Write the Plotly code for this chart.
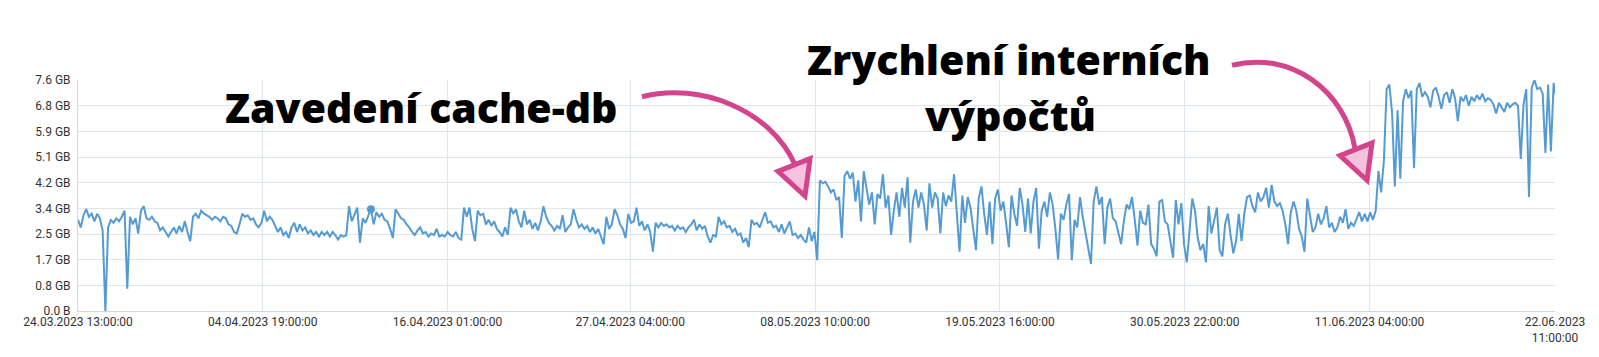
import pandas as pd
import plotly.graph_objects as go

# ---------------- data ----------------
start_time = "2023-03-24 13:00"
end_time = "2023-06-22 11:00"
step = "4h"

memory_gb = [
    # 24.03 - 08.04
    3.0, 2.75, 3.15, 3.35, 3.1, 3.2, 2.95, 3.2, 3.05, 2.65, 0.0, 2.75, 3.0, 2.9, 3.05, 2.95, 3.1, 3.3, 0.73, 3.1,
    2.85, 3.05, 2.55, 3.3, 3.45, 3.05, 3.0, 3.1, 2.95, 2.9, 2.65, 2.75, 2.6, 2.45, 2.6, 2.75, 2.55, 2.8, 2.6, 2.95,
    2.6, 2.3, 3.1, 3.2, 3.05, 3.3, 3.2, 3.15, 3.1, 3.0, 3.1, 3.05, 2.95, 3.1, 3.05, 2.85, 2.8, 2.6, 2.55, 2.85,
    3.2, 3.1, 3.15, 3.0, 3.05, 2.85, 2.75, 2.9, 3.3, 2.95, 3.1, 3.0, 2.8, 2.6, 2.75, 2.5, 2.6, 2.4, 2.75, 2.9,
    2.6, 2.85, 2.65, 2.75, 2.55, 2.65, 2.5, 2.6, 2.45, 2.6, 2.5,
    # 08.04 - 23.04
    2.6, 2.45, 2.6, 2.5, 2.35, 2.5, 2.45, 2.5, 3.45, 2.95, 3.2, 3.4, 2.25, 3.05, 2.9, 3.15, 3.35, 2.85, 3.25,
    3.1, 3.2, 3.0, 2.95, 2.7, 2.4, 3.35, 3.2, 3.05, 3.0, 2.85, 2.75, 2.6, 2.5, 2.65, 2.75, 2.55, 2.6, 2.45, 2.55,
    2.5, 2.7, 2.45, 2.5, 2.45, 2.6, 2.5, 2.45, 2.6, 2.4, 2.35, 3.4, 3.1, 3.4, 2.7, 2.3, 3.3, 3.15, 3.2, 2.85,
    3.0, 2.8, 2.95, 2.7, 2.6, 2.45, 2.75, 2.5, 3.4, 3.2, 3.35, 2.95, 2.75, 3.3, 2.85, 3.0, 2.7, 2.9, 2.65, 2.95,
    3.45, 3.1, 2.9, 2.8, 2.65, 2.8, 2.7, 3.15, 2.6, 2.75, 2.85, 3.35,
    # 23.04 - 08.05
    3.0, 2.75, 2.85, 2.7, 2.8, 2.6, 2.75, 2.55, 2.7, 2.45, 2.2, 3.1, 2.7, 2.85, 3.35, 3.15, 2.85, 2.7, 2.4,
    3.2, 2.9, 2.95, 3.4, 2.8, 2.95, 2.65, 2.85, 2.6, 1.95, 2.9, 2.75, 2.9, 2.8, 2.85, 2.75, 2.8, 2.65, 2.8, 2.7,
    2.75, 2.6, 2.75, 2.85, 3.0, 2.65, 2.85, 2.7, 2.8, 2.45, 2.25, 2.5, 2.45, 3.1, 2.85, 2.95, 2.75, 2.8, 2.6, 2.7,
    2.5, 2.55, 2.25, 2.4, 2.1, 3.0, 2.85, 2.9, 2.75, 3.0, 3.25, 2.9, 2.95, 2.75, 2.8, 2.6, 2.85, 2.55, 2.75, 2.95,
    2.5, 2.55, 2.4, 2.5, 2.35, 2.25, 2.75, 2.3, 2.6, 1.67, 4.3, 4.2,
    # 08.05 - 24.05
    4.25, 4.1, 3.9, 4.0, 3.65, 3.75, 2.4, 4.45, 4.6, 4.35, 4.55, 3.6, 4.3, 2.95, 4.6, 4.1, 3.5, 3.9, 2.85, 3.85,
    3.7, 4.5, 3.4, 3.8, 2.5, 3.3, 3.9, 3.1, 4.05, 3.4, 4.4, 2.25, 3.6, 4.0, 3.4, 3.9, 3.5, 2.65, 4.2, 3.4,
    3.9, 3.7, 2.55, 3.9, 3.45, 3.8, 3.6, 4.5, 3.1, 1.95, 3.8, 2.9, 3.75, 3.4, 2.7, 2.0, 3.7, 4.1, 3.2, 2.5,
    3.6, 2.2, 3.7, 4.0, 3.3, 3.6, 2.9, 2.1, 3.8, 3.2, 2.8, 4.05, 3.5, 2.6, 3.7, 2.55, 3.6, 4.05, 2.05, 3.3,
    3.6, 3.1, 3.9, 3.5, 2.7, 1.7, 3.2, 3.0, 3.5, 3.85,
    # 24.05 - 08.06
    1.67, 3.0, 2.75, 3.75, 3.1, 2.55, 1.95, 1.55, 3.6, 4.1, 3.5, 3.75, 2.2, 3.4, 3.7, 3.05, 2.95, 2.55, 2.2, 2.95,
    3.5, 3.35, 3.75, 3.0, 2.15, 3.3, 2.9, 2.85, 3.5, 2.2, 2.05, 1.8, 3.6, 3.65, 2.95, 2.85, 2.3, 1.75, 3.65, 2.85,
    3.55, 2.2, 1.6, 2.6, 3.7, 3.3, 2.4, 2.0, 2.2, 1.6, 3.45, 2.55, 3.0, 3.4, 2.0, 1.8, 2.85, 3.2, 2.5, 1.9,
    2.3, 3.2, 2.3, 3.2, 3.75, 3.8, 3.45, 3.25, 3.9, 3.6, 3.75, 4.05, 3.4, 4.15, 3.6, 3.45, 3.55, 3.3, 2.85, 2.2,
    3.25, 3.6, 3.3, 2.7, 2.45, 1.95, 3.7, 3.1, 2.6, 2.75,
    # 08.06 - 22.06
    3.2, 2.85, 3.05, 3.45, 2.75, 2.9, 2.6, 2.75, 3.1, 2.9, 3.35, 2.7, 2.9, 2.8, 3.0, 3.25, 2.95, 3.2, 2.95, 3.25,
    3.0, 3.3, 4.6, 3.9, 4.95, 7.3, 7.45, 6.5, 4.1, 6.6, 4.35, 6.9, 7.3, 7.0, 7.25, 4.7, 7.3, 7.5, 7.05, 7.2,
    7.05, 6.7, 7.25, 7.35, 7.05, 6.65, 7.1, 7.2, 6.85, 7.3, 7.0, 6.25, 7.05, 6.9, 7.1, 6.75, 7.05, 6.9, 7.1, 6.95,
    7.15, 6.9, 7.0, 6.95, 6.8, 6.5, 6.85, 6.7, 6.55, 6.85, 6.7, 6.8, 6.85, 6.75, 5.0, 6.8, 7.3, 3.75, 7.35, 7.6,
    7.3, 7.35, 7.15, 5.2, 7.45, 5.25, 7.5, 7.0,
]

highlight_index = 107

x_tick_labels = [
    "24.03.2023 13:00:00", "04.04.2023 19:00:00", "16.04.2023 01:00:00",
    "27.04.2023 04:00:00", "08.05.2023 10:00:00", "19.05.2023 16:00:00",
    "30.05.2023 22:00:00", "11.06.2023 04:00:00", "22.06.2023 11:00:00",
]
y_max_gb = 7.6
y_tick_labels = ["0.0 B", "0.8 GB", "1.7 GB", "2.5 GB", "3.4 GB",
                 "4.2 GB", "5.1 GB", "5.9 GB", "6.8 GB", "7.6 GB"]

annotation_1 = "Zavedení cache-db"
annotation_2_lines = ["Zrychlení interních", "výpočtů"]

# ---------------- figure ----------------
times = pd.date_range(start_time, periods=len(memory_gb), freq=step)
tick_vals = [pd.to_datetime(t, format="%d.%m.%Y %H:%M:%S") for t in x_tick_labels]
tick_text = x_tick_labels[:-1] + [x_tick_labels[-1].replace(" ", "<br>")]
y_tick_vals = [k * y_max_gb / (len(y_tick_labels) - 1) for k in range(len(y_tick_labels))]

LINE = "#559bd3"
GRID = "#dfe5ec"
AXIS = "#cfd7e0"
PINK = "#d3448c"
PINK_FILL = "#f3c3dd"

W, H = 1599, 357
ML, MR, MT, MB = 78, 44, 80, 42
PW, PH = W - ML - MR, H - MT - MB


def fx(px):
    return (px - ML) / PW


def fy(py):
    return (H - MB - py) / PH


fig = go.Figure()
fig.add_trace(go.Scatter(x=times, y=memory_gb, mode="lines",
                         line=dict(color=LINE, width=2), hoverinfo="skip"))
fig.add_trace(go.Scatter(x=[times[highlight_index]], y=[memory_gb[highlight_index]],
                         mode="markers", marker=dict(color=LINE, size=8), hoverinfo="skip"))

shapes = []
# white boxes behind the annotations (hide grid)
for (x0, x1, y0, y1) in [(200, 647, 30, 160), (785, 1233, 20, 156.5)]:
    shapes.append(dict(type="rect", xref="paper", yref="paper",
                       x0=fx(x0), x1=fx(x1), y0=fy(y1), y1=fy(y0),
                       fillcolor="white", line=dict(width=0), layer="between"))


def path(cmds):
    out = []
    for c in cmds:
        if isinstance(c, str):
            out.append(c)
        else:
            out.append(f"{fx(c[0]):.5f},{fy(c[1]):.5f}")
    return " ".join(out)


# arrow 1
shapes.append(dict(type="path", xref="paper", yref="paper",
                   path=path(["M", (642, 97), "C", (700, 82), (770, 110), (795, 166)]),
                   line=dict(color=PINK, width=5)))
shapes.append(dict(type="path", xref="paper", yref="paper",
                   path=path(["M", (778, 173), "L", (810, 160), "L", (805, 198), "Z"]),
                   fillcolor=PINK_FILL, line=dict(color=PINK, width=5)))
# arrow 2
shapes.append(dict(type="path", xref="paper", yref="paper",
                   path=path(["M", (1232, 65), "C", (1290, 50), (1345, 90), (1355, 150)]),
                   line=dict(color=PINK, width=5)))
shapes.append(dict(type="path", xref="paper", yref="paper",
                   path=path(["M", (1340, 157), "L", (1372, 144), "L", (1367, 182), "Z"]),
                   fillcolor=PINK_FILL, line=dict(color=PINK, width=5)))

ann_font = dict(family="'Open Sans', Lato, sans-serif", size=41, color="black", weight=800)
annotations = [
    dict(text=annotation_1, xref="paper", yref="paper", x=fx(421), y=fy(107),
         xanchor="center", yanchor="middle", showarrow=False, font=ann_font),
    dict(text=annotation_2_lines[0], xref="paper", yref="paper", x=fx(1009), y=fy(59),
         xanchor="center", yanchor="middle", showarrow=False, font=ann_font),
    dict(text=annotation_2_lines[1], xref="paper", yref="paper", x=fx(1010), y=fy(116),
         xanchor="center", yanchor="middle", showarrow=False, font=ann_font),
]

fig.update_layout(
    width=W, height=H, autosize=False,
    margin=dict(l=ML, r=MR, t=MT, b=MB, pad=0),
    paper_bgcolor="white", plot_bgcolor="white",
    showlegend=False,
    font=dict(family="Roboto, sans-serif", size=12, color="#333333"),
    shapes=shapes, annotations=annotations,
    xaxis=dict(type="date", range=[pd.to_datetime(start_time), pd.to_datetime(end_time)],
               tickmode="array", tickvals=tick_vals, ticktext=tick_text,
               showgrid=True, gridcolor=GRID, gridwidth=1,
               showline=True, linecolor=AXIS, linewidth=1,
               ticks="", zeroline=False, tickangle=0),
    yaxis=dict(range=[0, y_max_gb], tickmode="array", tickvals=y_tick_vals,
               ticktext=y_tick_labels, showgrid=True, gridcolor=GRID, gridwidth=1,
               showline=True, linecolor=AXIS, linewidth=1, ticks="",
               zeroline=False, ticklabelstandoff=4),
)

fig.write_html("out.html")
